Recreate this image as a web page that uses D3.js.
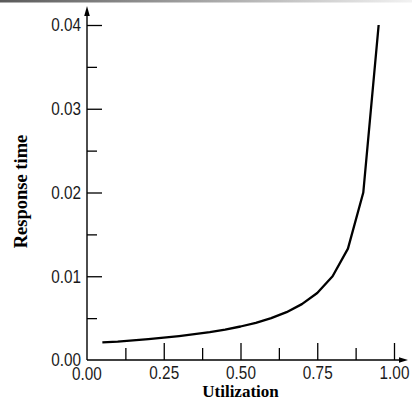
<!DOCTYPE html>
<html>
<head>
<meta charset="utf-8">
<script src="https://cdn.jsdelivr.net/npm/d3@7"></script>
<style>
  html, body { margin: 0; padding: 0; background: #fff; }
  svg { display: block; }
</style>
</head>
<body>
<svg id="chart" width="412" height="403"></svg>
<script>
// Data
const utilization = [0.05, 0.10, 0.15, 0.20, 0.25, 0.30, 0.35, 0.40, 0.45, 0.50,
                     0.55, 0.60, 0.65, 0.70, 0.75, 0.80, 0.85, 0.90, 0.95];
const responseTime = [0.0021, 0.0022, 0.00235, 0.0025, 0.00267, 0.00286, 0.00308, 0.00333, 0.00364, 0.0040,
                      0.00444, 0.0050, 0.00571, 0.00667, 0.0080, 0.0100, 0.0133, 0.0200, 0.0400];
const xMajorTicks = [0.25, 0.50, 0.75, 1.00];
const xMinorTicks = [0.125, 0.375, 0.625, 0.875];
const yMajorTicks = [0.01, 0.02, 0.03, 0.04];
const yMinorTicks = [0.005, 0.015, 0.025, 0.035];
const xLabel = "Utilization";
const yLabel = "Response time";

const svg = d3.select("#chart");

// top gradient strip
const defs = svg.append("defs");
const grad = defs.append("linearGradient").attr("id", "topbar").attr("x1", "0").attr("x2", "1");
grad.append("stop").attr("offset", "0").attr("stop-color", "#5a5a5a");
grad.append("stop").attr("offset", "1").attr("stop-color", "#f2f2f2");
svg.append("rect").attr("x", 0).attr("y", 0).attr("width", 412).attr("height", 2.5).attr("fill", "url(#topbar)");

const x = d3.scaleLinear().domain([0, 1]).range([87, 394]);
const y = d3.scaleLinear().domain([0, 0.04]).range([360, 25]);

const tickFont = "'Liberation Sans', Arial, sans-serif";
function condense(sel) {
  sel.each(function () {
    const w = this.getComputedTextLength();
    d3.select(this).attr("textLength", w * 0.85).attr("lengthAdjust", "spacingAndGlyphs");
  });
}

// X axis: major ticks with labels (pointing up)
const gx = svg.append("g").attr("transform", `translate(0,${y(0)})`);
gx.call(d3.axisBottom(x).tickValues(xMajorTicks).tickSize(-17).tickPadding(6)
  .tickFormat(d3.format(".2f")));
const gxm = svg.append("g").attr("transform", `translate(0,${y(0)})`);
gxm.call(d3.axisBottom(x).tickValues(xMinorTicks).tickSize(-12).tickFormat(""));

// Y axis: ticks pointing right
const gy = svg.append("g").attr("transform", `translate(${x(0)},0)`);
gy.call(d3.axisLeft(y).tickValues(yMajorTicks).tickSize(-15).tickPadding(6)
  .tickFormat(d3.format(".2f")));
const gym = svg.append("g").attr("transform", `translate(${x(0)},0)`);
gym.call(d3.axisLeft(y).tickValues(yMinorTicks).tickSize(-10).tickFormat(""));

[gx, gxm, gy, gym].forEach(g => {
  g.select(".domain").remove();
  g.selectAll(".tick line").attr("stroke", "#000").attr("stroke-width", 1.3);
  g.selectAll(".tick text").attr("fill", "#1a1a1a").attr("font-family", tickFont).attr("font-size", 18);
});
gx.selectAll(".tick text").call(condense);
gy.selectAll(".tick text").call(condense);

// Origin labels "0.00" on both axes
svg.append("text").attr("x", x(0) - 6).attr("y", y(0)).attr("dy", "0.35em")
  .attr("text-anchor", "end").attr("fill", "#1a1a1a").attr("font-family", tickFont).attr("font-size", 18).text("0.00")
  .call(condense);
svg.append("text").attr("x", x(0)).attr("y", y(0) + 20)
  .attr("text-anchor", "middle").attr("fill", "#1a1a1a").attr("font-family", tickFont).attr("font-size", 18).text("0.00")
  .call(condense);

// Axis lines with arrows
svg.append("line").attr("x1", x(0)).attr("y1", y(0)).attr("x2", x(0)).attr("y2", y(0.04) - 14)
  .attr("stroke", "#000").attr("stroke-width", 1.4);
svg.append("path")
  .attr("d", `M${x(0)},${y(0.04) - 19} L${x(0) - 2.8},${y(0.04) - 9} L${x(0) + 2.8},${y(0.04) - 9} Z`)
  .attr("fill", "#000");
svg.append("line").attr("x1", x(0)).attr("y1", y(0)).attr("x2", x(1) + 8).attr("y2", y(0))
  .attr("stroke", "#000").attr("stroke-width", 1.4);
svg.append("path")
  .attr("d", `M${x(1) + 14},${y(0)} L${x(1) + 5},${y(0) - 2.8} L${x(1) + 5},${y(0) + 2.8} Z`)
  .attr("fill", "#000");

// Curve
const line = d3.line().x((d, i) => x(utilization[i])).y(d => y(d));
svg.append("path").datum(responseTime)
  .attr("d", line).attr("fill", "none").attr("stroke", "#000").attr("stroke-width", 2.3)
  .attr("stroke-linejoin", "round");

// Axis titles
svg.append("text").attr("x", (x(0) + x(1)) / 2).attr("y", 397)
  .attr("text-anchor", "middle").attr("font-family", "'Liberation Serif', 'Times New Roman', serif")
  .attr("font-weight", "bold").attr("font-size", 17).text(xLabel);
svg.append("text").attr("transform", `translate(27,${(y(0) + y(0.04)) / 2 - 1}) rotate(-90)`)
  .attr("text-anchor", "middle").attr("font-family", "'Liberation Serif', 'Times New Roman', serif")
  .attr("font-weight", "bold").attr("font-size", 18.5).text(yLabel);
</script>
</body>
</html>
